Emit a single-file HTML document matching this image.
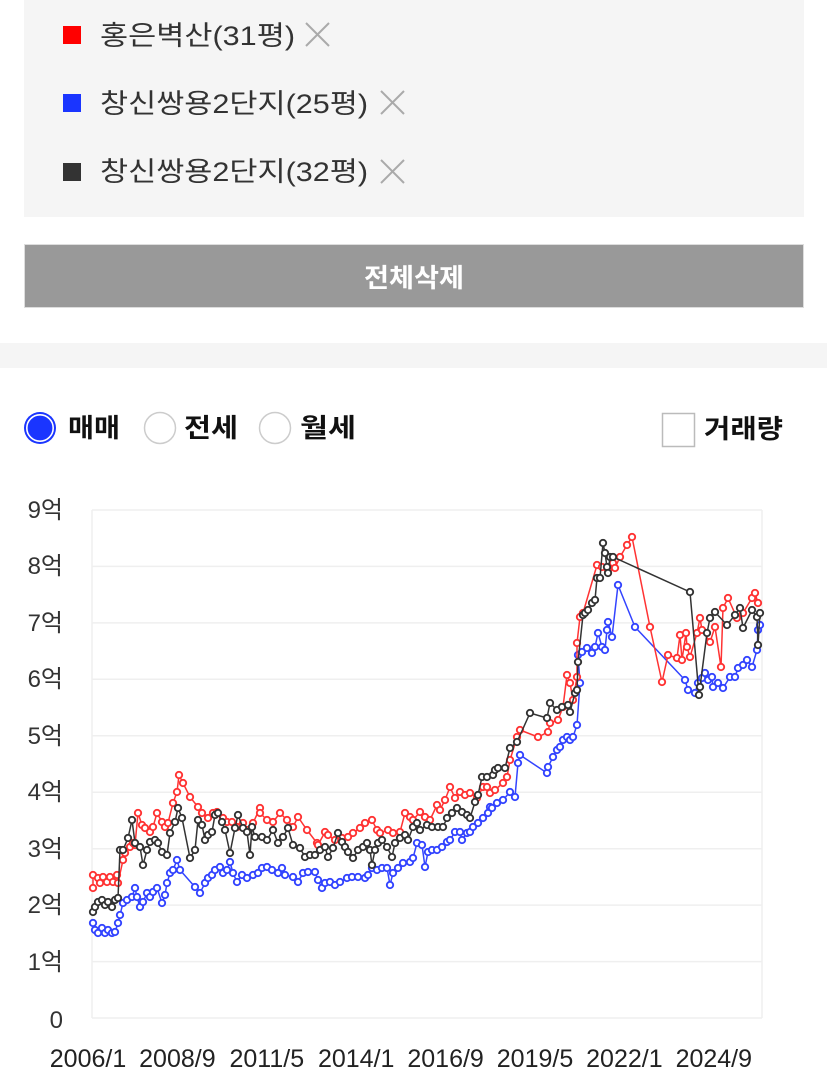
<!DOCTYPE html>
<html><head><meta charset="utf-8"><style>
html,body{margin:0;padding:0;background:#fff;width:827px;height:1087px;overflow:hidden}
svg{display:block}
text{font-family:"Liberation Sans","Noto Sans CJK KR",sans-serif}
</style></head><body>
<svg width="827" height="1087" viewBox="0 0 827 1087" xmlns="http://www.w3.org/2000/svg">
<defs>
<marker id="mr" markerUnits="userSpaceOnUse" markerWidth="10" markerHeight="10" refX="5" refY="5"><circle cx="5" cy="5" r="3.2" fill="#fff" stroke="#f33" stroke-width="1.9"/></marker>
<marker id="mb" markerUnits="userSpaceOnUse" markerWidth="10" markerHeight="10" refX="5" refY="5"><circle cx="5" cy="5" r="3.2" fill="#fff" stroke="#3344ff" stroke-width="1.9"/></marker>
<marker id="mk" markerUnits="userSpaceOnUse" markerWidth="10" markerHeight="10" refX="5" refY="5"><circle cx="5" cy="5" r="3.2" fill="#fff" stroke="#333" stroke-width="1.9"/></marker>
</defs>
<!-- top panel -->
<rect x="24" y="0" width="780" height="217" fill="#f5f5f5"/>
<rect x="63" y="26" width="18" height="18" fill="#ff0000"/>
<text x="100" y="45" font-size="27" fill="#333" textLength="195" lengthAdjust="spacingAndGlyphs">홍은벽산(31평)</text>
<path d="M306 23 L329 46 M329 23 L306 46" stroke="#aaa" stroke-width="2"/>
<rect x="63" y="94" width="18" height="18" fill="#1a35ff"/>
<text x="100" y="113" font-size="27" fill="#333" textLength="268" lengthAdjust="spacingAndGlyphs">창신쌍용2단지(25평)</text>
<path d="M381 91 L404 114 M404 91 L381 114" stroke="#aaa" stroke-width="2"/>
<rect x="63" y="163" width="18" height="18" fill="#333"/>
<text x="100" y="181" font-size="27" fill="#333" textLength="268" lengthAdjust="spacingAndGlyphs">창신쌍용2단지(32평)</text>
<path d="M381 160 L404 183 M404 160 L381 183" stroke="#aaa" stroke-width="2"/>
<!-- button -->
<rect x="24.5" y="244.5" width="779" height="63" fill="#999" stroke="#ddd" stroke-width="1"/>
<text x="414" y="287" font-size="26" font-weight="bold" fill="#fff" text-anchor="middle" textLength="100" lengthAdjust="spacingAndGlyphs">전체삭제</text>
<!-- separator -->
<rect x="0" y="343" width="827" height="25" fill="#f5f5f5"/>
<!-- radios -->
<circle cx="40" cy="428" r="16" fill="#1a35ff"/>
<circle cx="40" cy="428" r="13.2" fill="none" stroke="#fff" stroke-width="1.6"/>
<text x="68" y="437" font-size="26" font-weight="bold" fill="#111" textLength="52" lengthAdjust="spacingAndGlyphs">매매</text>
<circle cx="160" cy="428" r="15.5" fill="#fff" stroke="#ccc" stroke-width="1.5"/>
<text x="184" y="437" font-size="26" font-weight="bold" fill="#111" textLength="54" lengthAdjust="spacingAndGlyphs">전세</text>
<circle cx="275" cy="428" r="15.5" fill="#fff" stroke="#ccc" stroke-width="1.5"/>
<text x="300" y="437" font-size="26" font-weight="bold" fill="#111" textLength="56" lengthAdjust="spacingAndGlyphs">월세</text>
<rect x="662.5" y="413.5" width="32" height="33" fill="#fff" stroke="#bbb" stroke-width="1.5"/>
<text x="704" y="438" font-size="26" font-weight="bold" fill="#111" textLength="79" lengthAdjust="spacingAndGlyphs">거래량</text>
<!-- grid -->
<g stroke="#efefef" stroke-width="1.5" fill="none">
<line x1="92" y1="510" x2="762" y2="510"/>
<line x1="92" y1="566.4" x2="762" y2="566.4"/>
<line x1="92" y1="622.9" x2="762" y2="622.9"/>
<line x1="92" y1="679.3" x2="762" y2="679.3"/>
<line x1="92" y1="735.8" x2="762" y2="735.8"/>
<line x1="92" y1="792.2" x2="762" y2="792.2"/>
<line x1="92" y1="848.7" x2="762" y2="848.7"/>
<line x1="92" y1="905.1" x2="762" y2="905.1"/>
<line x1="92" y1="961.6" x2="762" y2="961.6"/>
<line x1="92" y1="1018" x2="762" y2="1018"/>
<line x1="92" y1="510" x2="92" y2="1018"/>
<line x1="762" y1="510" x2="762" y2="1018"/>
</g>
<!-- y labels -->
<g font-size="24" fill="#333" text-anchor="end">
<text x="63" y="518">9억</text>
<text x="63" y="574">8억</text>
<text x="63" y="631">7억</text>
<text x="63" y="687">6억</text>
<text x="63" y="744">5억</text>
<text x="63" y="800">4억</text>
<text x="63" y="857">3억</text>
<text x="63" y="913">2억</text>
<text x="63" y="970">1억</text>
<text x="63" y="1028">0</text>
</g>
<!-- x labels -->
<g font-size="25" fill="#222" text-anchor="middle">
<text x="88" y="1067">2006/1</text>
<text x="177.4" y="1067">2008/9</text>
<text x="266.8" y="1067">2011/5</text>
<text x="356.2" y="1067">2014/1</text>
<text x="445.6" y="1067">2016/9</text>
<text x="535" y="1067">2019/5</text>
<text x="624.4" y="1067">2022/1</text>
<text x="713.8" y="1067">2024/9</text>
</g>
<!-- blue -->
<polyline fill="none" stroke="#3344ff" stroke-width="1.5" marker-start="url(#mb)" marker-mid="url(#mb)" marker-end="url(#mb)" points="93,923 95,930 98,933 102,928 105,933 108,930 112,933 115,932 118,923 120,915 123,903 127,900 132,897 135,888 137,897 140,907 143,902 147,893 150,897 153,892 157,888 162,903 165,895 167,883 170,873 173,870 177,860 180,870 195,887 200,893 205,883 208,878 212,875 215,870 220,867 223,873 227,870 230,862 233,873 237,882 242,875 247,878 253,875 258,873 262,868 267,867 272,870 278,873 282,868 285,875 293,877 298,882 303,873 308,872 315,872 318,880 322,888 325,883 330,882 335,885 340,882 347,878 352,877 358,877 365,878 368,875 372,868 377,870 382,868 387,868 390,885 393,873 398,868 403,863 410,862 413,858 417,843 422,845 425,867 428,852 432,850 437,850 442,847 447,842 450,840 455,832 460,832 462,840 467,833 470,832 473,827 478,823 483,818 488,813 490,807 492,808 497,803 503,800 510,792 515,797 518,763 520,755 547,773 548,767 553,757 557,750 560,747 563,740 567,737 570,740 573,737 577,725 580,683 578,655 582,652 587,648 592,653 595,647 598,633 602,647 605,650 607,630 608,622 612,637 618,585 635,627 685,680 688,690 695,693 698,683 702,678 705,673 708,680 712,677 713,687 718,683 723,688 730,677 735,677 738,668 743,665 747,660 752,667 757,650 758,630 760,625"/>
<!-- red -->
<polyline fill="none" stroke="#f33" stroke-width="1.5" marker-start="url(#mr)" marker-mid="url(#mr)" marker-end="url(#mr)" points="93,888 93,875 98,878 100,883 103,877 107,882 110,877 113,882 117,875 118,883 123,860 125,853 130,847 133,843 135,845 138,813 142,825 145,828 150,832 153,827 157,813 162,822 165,827 168,823 173,803 177,792 179,775 183,783 190,797 198,807 202,813 208,818 213,813 217,812 223,818 227,822 232,822 237,827 243,823 248,830 253,823 260,808 260,813 267,820 273,822 280,813 287,820 293,827 298,817 307,830 317,843 318,845 325,832 328,835 335,840 342,838 348,837 353,833 360,828 365,823 372,820 377,830 380,833 388,830 393,833 400,832 405,813 410,817 413,820 420,812 425,817 430,820 437,805 440,810 445,800 450,787 455,798 460,792 465,795 470,793 477,798 483,787 487,787 490,793 495,790 503,783 507,777 510,760 517,737 520,730 538,737 548,732 550,723 558,720 563,707 567,675 570,683 573,700 577,677 577,643 580,617 583,613 597,565 602,567 608,570 613,563 615,568 620,557 627,545 632,537 650,627 662,682 668,655 677,658 680,635 682,660 686,633 687,647 690,657 697,633 700,618 702,630 710,642 715,627 721,667 723,608 728,598 737,618 743,613 752,598 755,593 758,603"/>
<!-- black -->
<polyline fill="none" stroke="#333" stroke-width="1.5" marker-start="url(#mk)" marker-mid="url(#mk)" marker-end="url(#mk)" points="93,912 95,907 98,902 102,900 105,905 108,902 112,907 115,900 118,898 120,850 123,850 128,838 132,820 135,843 140,847 143,865 147,850 150,842 155,840 158,843 162,852 167,855 170,833 175,822 178,808 182,818 190,858 195,850 198,820 202,825 205,840 208,835 212,832 215,815 218,813 222,822 225,830 230,853 235,828 238,815 243,828 247,832 250,855 252,827 255,837 262,837 267,840 273,830 278,843 283,837 288,828 293,845 300,848 305,857 310,855 315,855 320,850 325,847 328,857 333,848 338,833 342,842 345,847 348,852 353,858 358,850 363,847 367,843 370,850 372,865 375,850 378,843 382,840 387,847 392,857 395,843 400,838 405,835 408,840 413,827 417,823 420,830 427,825 432,827 438,827 443,827 447,818 452,813 457,808 462,812 467,815 470,818 475,802 478,795 482,777 487,777 493,775 495,770 498,768 505,768 510,748 517,742 530,713 547,718 550,703 557,710 562,707 568,705 570,712 575,693 577,690 578,662 583,615 585,613 588,610 592,603 595,600 597,578 600,578 603,543 605,553 607,567 608,573 610,557 613,557 690,592 699,695 700,687 707,633 710,618 715,612 727,625 735,615 740,608 743,628 752,610 757,617 758,645 760,613"/>
</svg>
</body></html>
